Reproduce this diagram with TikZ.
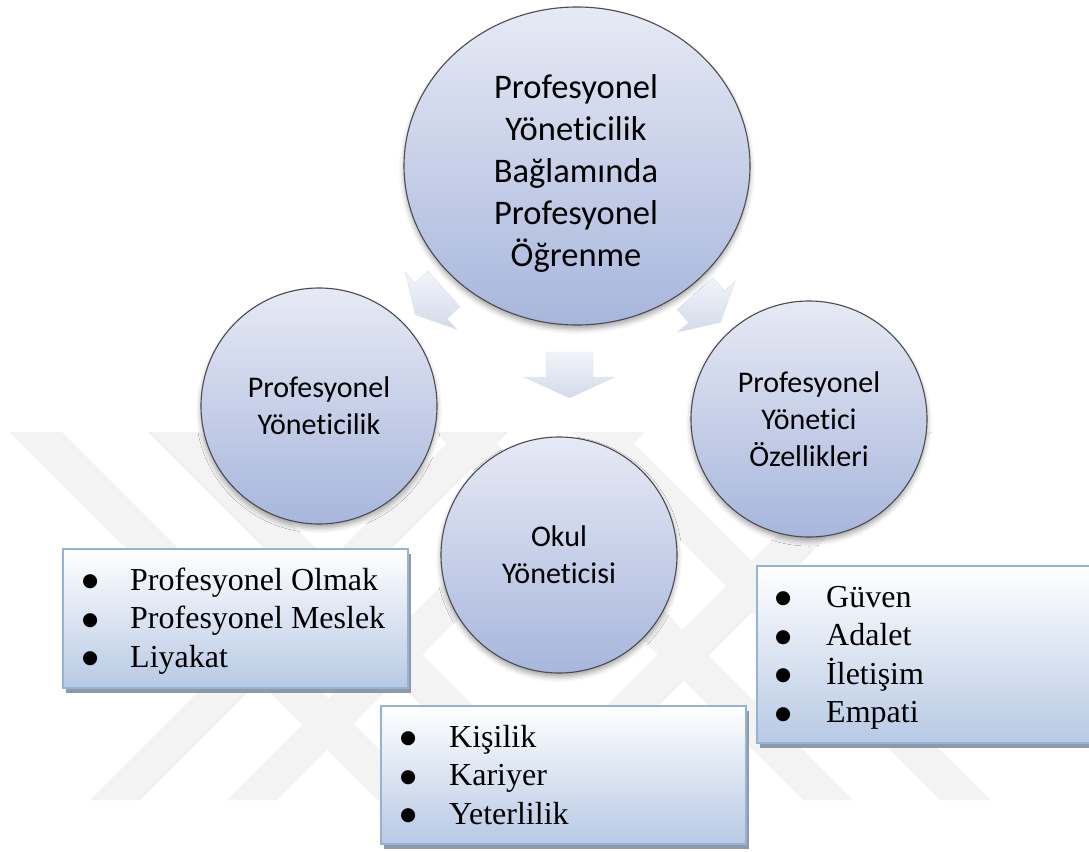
\documentclass[tikz,border=0pt]{standalone}
\usepackage{fontspec}
\setmainfont{Liberation Serif}
\newfontfamily\calibrifont[RawFeature={-liga;-clig;-calt;-dlig}]{Carlito}
\newfontfamily\dotfont{DejaVu Sans}
\usetikzlibrary{shapes.geometric,shadows,shadows.blur}

\definecolor{bandgray}{RGB}{243,243,243}
\definecolor{circtop}{RGB}{231,234,245}
\definecolor{circbot}{RGB}{167,182,220}
\definecolor{circline}{RGB}{75,75,80}
\definecolor{boxline}{RGB}{149,179,215}
\definecolor{boxmid}{RGB}{226,233,244}
\definecolor{boxbot}{RGB}{183,201,228}
\definecolor{boxshadow}{RGB}{132,143,162}
\definecolor{arrtop}{RGB}{242,244,250}
\definecolor{arrbot}{RGB}{212,218,235}

% bullet set in a fixed-width slot
\newcommand{\bulletslot}[1]{\makebox[#1][l]{\makebox[10pt][c]{\raisebox{3.5pt}{\dotfont\fontsize{18.5}{18.5}\selectfont ●}}}}

\begin{document}
\begin{tikzpicture}[x=1pt,y=-1pt,
  bubble/.style={draw=circline, line width=1.1pt, top color=circtop, bottom color=circbot,
    align=center, text=black, inner sep=0pt,
    blur shadow={shadow xshift=0pt, shadow yshift=-4pt, shadow blur radius=5pt, shadow opacity=35}},
  bigtext/.style={font=\calibrifont\fontsize{34.5}{42}\selectfont, align=center, inner sep=0pt},
  smalltext/.style={font=\calibrifont\fontsize{30}{37}\selectfont},
  listbox/.style={draw=boxline, line width=2pt, top color=white, middle color=boxmid,
    bottom color=boxbot, inner sep=0pt,
    drop shadow={shadow xshift=3pt, shadow yshift=-5pt, fill=boxshadow, opacity=0.9}},
  listtext/.style={font=\fontsize{32}{38.5}\selectfont, inner sep=0pt, anchor=base west},
  arrowfill/.style={top color=arrtop, bottom color=arrbot, draw=arrbot!80!white, line width=0.4pt},
  pics/blockarrow/.style n args={4}{code={
    \path[arrowfill] (-#1,0) -- (#1,0) -- (#1,#2) -- (#3,#2) -- (0,#2+#4)
      -- (-#3,#2) -- (-#1,#2) -- cycle;}}
]
\useasboundingbox (0,0) rectangle (1089,851);

% faint background bands
\begin{scope}[bandgray]
  \fill (10,432) -- (62,432) -- (430,800) -- (378,800) -- cycle;
  \fill (148,432) -- (200,432) -- (568,800) -- (516,800) -- cycle;
  \fill (90,800) -- (140,800) -- (508,432) -- (458,432) -- cycle;
  \fill (227,800) -- (277,800) -- (645,432) -- (595,432) -- cycle;
  \fill (880,432) -- (932,432) -- (564,800) -- (512,800) -- cycle;
  \fill (940,800) -- (990,800) -- (622,432) -- (572,432) -- cycle;
  \fill (803,800) -- (853,800) -- (485,432) -- (435,432) -- cycle;
\end{scope}

% block arrows
\pic at (569.5,352) {blockarrow={23.5}{25}{45.5}{21}};
\pic[rotate=-48] at (444,289) {blockarrow={24}{17.5}{38.5}{21}};
\pic[rotate=41.5] at (695,293.5) {blockarrow={24}{17.5}{38.5}{21}};

% circles
\node[bubble, ellipse, minimum width=346pt, minimum height=318pt] (hub) at (577,166) {};
\node[bigtext] (hubtext) at (576,173)
  {Profesyonel\\Yöneticilik\\Bağlamında\\Profesyonel\\Öğrenme};
\node[bubble, smalltext, circle, minimum size=236pt] (left) at (319,406)
  {Profesyonel\\Yöneticilik};
\node[bubble, smalltext, circle, minimum size=236pt] (right) at (809,419)
  {Profesyonel\\Yönetici\\Özellikleri};
\node[bubble, smalltext, circle, minimum size=236pt] (mid) at (559,555)
  {Okul\\Yöneticisi};

% lists
\node[listbox, minimum width=345pt, minimum height=139pt, anchor=north west] (box1) at (62,548) {};
\node[listtext] (list1) at (85,590) {\begin{tabular}[t]{@{}l@{}}
  \bulletslot{45pt}Profesyonel Olmak\\
  \bulletslot{45pt}Profesyonel Meslek\\
  \bulletslot{45pt}Liyakat\end{tabular}};

\node[listbox, minimum width=365pt, minimum height=138pt, anchor=north west] (box2) at (380,705) {};
\node[listtext] (list2) at (403,747) {\begin{tabular}[t]{@{}l@{}}
  \bulletslot{46pt}Kişilik\\
  \bulletslot{46pt}Kariyer\\
  \bulletslot{46pt}Yeterlilik\end{tabular}};

\node[listbox, minimum width=350pt, minimum height=177pt, anchor=north west] (box3) at (756,565) {};
\node[listtext] (list3) at (778,607) {\begin{tabular}[t]{@{}l@{}}
  \bulletslot{48pt}Güven\\
  \bulletslot{48pt}Adalet\\
  \bulletslot{48pt}İletişim\\
  \bulletslot{48pt}Empati\end{tabular}};
\end{tikzpicture}
\end{document}
